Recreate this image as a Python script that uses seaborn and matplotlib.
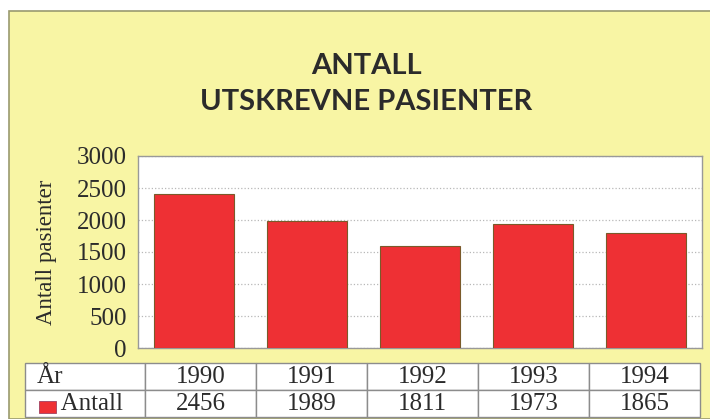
import matplotlib
matplotlib.use("Agg")
import matplotlib.pyplot as plt
import seaborn as sns
import pandas as pd
from matplotlib.patches import Rectangle

years = ["1990", "1991", "1992", "1993", "1994"]
# bar heights as drawn in the chart
bar_heights = [2400, 1980, 1600, 1935, 1800]
# numbers printed in the table under the chart
table_counts = ["2456", "1989", "1811", "1973", "1865"]
y_ticks = [0, 500, 1000, 1500, 2000, 2500, 3000]

df = pd.DataFrame({"year": years, "antall": bar_heights})

sns.set_theme(style="white")
plt.rcParams["font.family"] = ["Liberation Serif", "DejaVu Serif"]

yellow = "#f8f5a4"
red = "#ee3034"
ink = "#2b2b2b"

fig = plt.figure(figsize=(7.1, 4.19), dpi=100)
fig.patch.set_facecolor("white")
fig.patches.append(Rectangle((9 / 710, 0), 1, 1 - 11 / 419, transform=fig.transFigure,
                             facecolor=yellow, edgecolor="#9a9a70", lw=1.2, zorder=-1))

ax = fig.add_axes([138 / 710, 1 - 348 / 419, 564 / 710, 192 / 419])
ax.set_zorder(1)
ax.set_facecolor("white")
sns.barplot(data=df, x="year", y="antall", color=red, width=0.71,
            edgecolor="#7a5a2a", linewidth=0.8, saturation=1, ax=ax, zorder=3)

ax.set_ylim(0, 3000)
ax.set_xlim(-0.5, 4.5)
ax.set_yticks(y_ticks)
ax.set_yticklabels([str(t) for t in y_ticks], fontsize=18, color=ink)
ax.tick_params(axis="y", length=0, pad=8)
ax.set_xticks([])
ax.set_xlabel("")
ax.set_ylabel("Antall pasienter", fontsize=16.5, color=ink, va="center")
ax.yaxis.set_label_coords(-0.162, 0.5)
ax.yaxis.grid(True, linestyle=":", color="#b8b8b8", lw=0.9, zorder=0)
ax.set_axisbelow(True)
for s in ax.spines.values():
    s.set_color("#999999")
    s.set_linewidth(1)

# title
fig.text(366 / 710, 1 - 66 / 419, "ANTALL", ha="center", va="center",
         fontsize=21, color=ink, family="Lato", weight="bold")
fig.text(366 / 710, 1 - 102 / 419, "UTSKREVNE PASIENTER", ha="center", va="center",
         fontsize=21, color=ink, family="Lato", weight="bold")

# table under the bars
cells = [["År"] + years, ["    Antall"] + table_counts]
col_w = [120] + [111] * 5
tab = ax.table(cellText=cells, colWidths=[w / 564 for w in col_w], cellLoc="center",
               bbox=[(25 - 138) / 564, (348 - 417) / 192, 675 / 564, 54 / 192])
tab.auto_set_font_size(False)
tab.set_fontsize(18)
for (r, c), cell in tab.get_celld().items():
    cell.set_edgecolor("#8c8c8c")
    cell.set_linewidth(1)
    cell.set_facecolor("white")
    cell.get_text().set_color(ink)
    if c == 0:
        cell.set_text_props(ha="left")
        cell.PAD = 0.1

fig.patches.append(Rectangle((39 / 710, 1 - 413 / 419), 17 / 710, 12 / 419,
                             transform=fig.transFigure, facecolor=red,
                             edgecolor="#a04060", lw=0.6, zorder=5))

fig.savefig("out.png", dpi=100)
